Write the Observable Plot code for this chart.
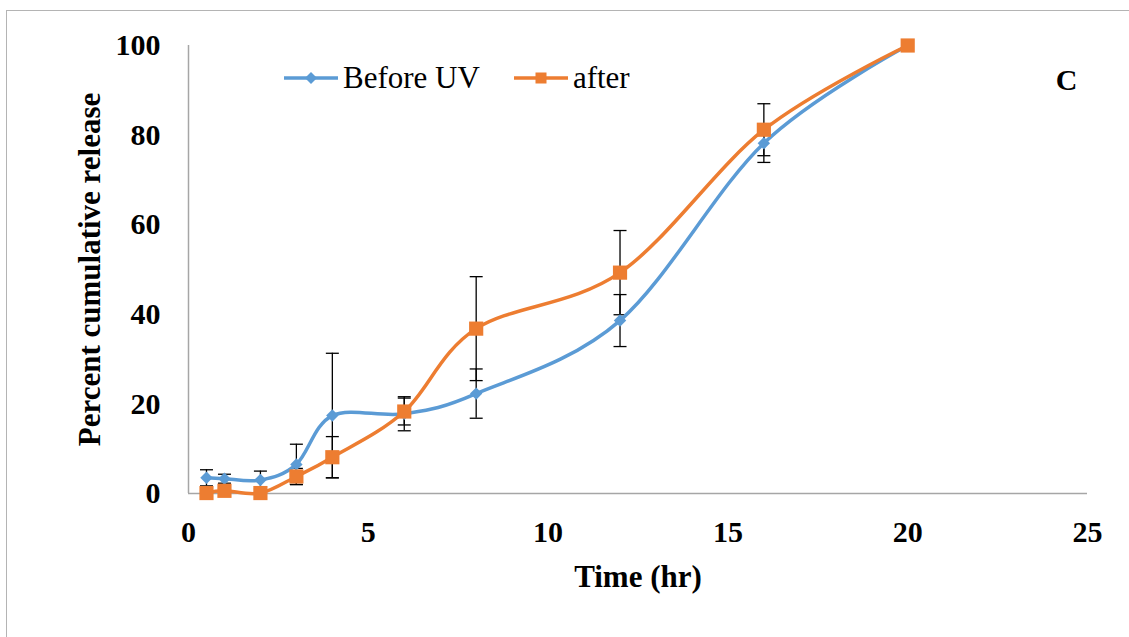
<!DOCTYPE html>
<html>
<head>
<meta charset="utf-8">
<script src="https://cdn.jsdelivr.net/npm/d3@7"></script>
<script src="https://cdn.jsdelivr.net/npm/@observablehq/plot@0.6"></script>
<style>
  html, body { margin: 0; padding: 0; background: #fff; }
  #wrap { position: relative; width: 1129px; height: 637px; overflow: hidden; font-family: "Liberation Serif", "Times New Roman", serif; }
  #borderTop { position: absolute; left: 6px; top: 10px; width: 1130px; height: 0; border-top: 1.5px solid #b4b4b4; }
  #borderLeft { position: absolute; left: 6px; top: 10px; width: 0; height: 640px; border-left: 1.5px solid #b4b4b4; }
  #chart { position: absolute; left: 0; top: 0; }
  #legend { position: absolute; left: 284px; top: 60px; display: flex; align-items: center; font-size: 31px; color: #000; }
  #legend .item { display: flex; align-items: center; margin-right: 34px; }
  #legend svg { margin-right: 5px; }
</style>
</head>
<body>
<div id="wrap">
  <div id="chart"></div>
  <div id="borderTop"></div>
  <div id="borderLeft"></div>
  <div id="legend"></div>
</div>
<script>
// ---- data ----
const time = [0.5, 1, 2, 3, 4, 6, 8, 12, 16, 20];
const beforeUV = [3.5, 3.3, 3.0, 6.5, 17.4, 17.8, 22.3, 38.6, 78.2, 100];
const beforeUVErr = [1.8, 1.0, 2.0, 4.5, 13.9, 3.8, 5.5, 5.8, 4.3, 0];
const after = [0.1, 0.6, 0.1, 3.8, 8.1, 18.3, 36.8, 49.3, 81.2, 100];
const afterErr = [0.3, 0.5, 0.3, 1.8, 4.6, 3.0, 11.6, 9.4, 5.8, 0];
const seriesNames = ["Before UV", "after"];
const seriesColors = ["#5B9BD5", "#ED7D31"];
const xTicks = [0, 5, 10, 15, 20, 25];
const yTicks = [0, 20, 40, 60, 80, 100];
const xLabel = "Time (hr)";
const yLabel = "Percent cumulative release";
const panelLabel = "C";

const rows = [];
time.forEach((t, i) => {
  rows.push({series: seriesNames[0], t, v: beforeUV[i], e: beforeUVErr[i]});
  rows.push({series: seriesNames[1], t, v: after[i], e: afterErr[i]});
});
const rowsA = rows.filter(d => d.series === seriesNames[0]);
const rowsB = rows.filter(d => d.series === seriesNames[1]);
const errRows = rows.filter(d => d.e > 0);

const capSymbol = {
  draw(context, size) {
    const w = 6.5;
    context.moveTo(-w, 0);
    context.lineTo(w, 0);
  }
};

const plot = Plot.plot({
  width: 1129,
  height: 637,
  marginLeft: 188,
  marginRight: 42,
  marginTop: 45,
  marginBottom: 144,
  style: { fontFamily: "'Liberation Serif', 'Times New Roman', serif", background: "transparent", color: "#000" },
  x: { domain: [0, 25] },
  y: { domain: [0, 100] },
  marks: [
    Plot.axisX({ ticks: xTicks, tickSize: 0, tickPadding: 27, fontSize: 30, fontWeight: "bold", label: null }),
    Plot.axisY({ ticks: yTicks, tickSize: 0, tickPadding: 28, fontSize: 30, fontWeight: "bold", label: null }),
    Plot.ruleY([0], { stroke: "#a6a6a6", strokeWidth: 1.5 }),
    Plot.ruleX([0], { stroke: "#a6a6a6", strokeWidth: 1.5 }),
    // error bars
    Plot.ruleX(errRows, { x: "t", y1: d => d.v - d.e, y2: d => d.v + d.e, stroke: "#000", strokeWidth: 1.3 }),
    Plot.dot(errRows, { x: "t", y: d => d.v + d.e, symbol: capSymbol, r: 4, stroke: "#000", strokeWidth: 1.3, fill: "none" }),
    Plot.dot(errRows, { x: "t", y: d => d.v - d.e, symbol: capSymbol, r: 4, stroke: "#000", strokeWidth: 1.3, fill: "none" }),
    // lines
    Plot.line(rowsA, { x: "t", y: "v", stroke: seriesColors[0], strokeWidth: 3.5, curve: "cardinal", tension: 0 }),
    Plot.line(rowsB, { x: "t", y: "v", stroke: seriesColors[1], strokeWidth: 3.5, curve: "cardinal", tension: 0 }),
    // markers
    Plot.dot(rowsA, { x: "t", y: "v", symbol: "diamond2", r: 5.6, fill: seriesColors[0], stroke: null }),
    Plot.dot(rowsB, { x: "t", y: "v", symbol: "square", r: 8, fill: seriesColors[1], stroke: null }),
    // axis titles and panel label
    Plot.text([yLabel], { frameAnchor: "left", dx: -98, rotate: -90, text: d => d, fontSize: 31, fontWeight: "bold", fill: "#000", textAnchor: "middle", lineAnchor: "middle" }),
    Plot.text([xLabel], { frameAnchor: "bottom", dy: 84, text: d => d, fontSize: 31, fontWeight: "bold", fill: "#000", textAnchor: "middle", lineAnchor: "middle" }),
    Plot.text([panelLabel], { frameAnchor: "top-right", dx: -10, dy: 35, text: d => d, fontSize: 30, fontWeight: "bold", fill: "#000", textAnchor: "end", lineAnchor: "middle" })
  ]
});
document.getElementById("chart").appendChild(plot);

// legend
const legend = document.getElementById("legend");
seriesNames.forEach((name, i) => {
  const item = document.createElement("div");
  item.className = "item";
  const marker = i === 0
    ? `<path d="M27,-6 L33,0 L27,6 L21,0 Z" fill="${seriesColors[i]}" transform="translate(0,8)"/>`
    : `<rect x="21.5" y="2.5" width="11" height="11" fill="${seriesColors[i]}"/>`;
  item.innerHTML = `<svg width="54" height="16"><line x1="0" y1="8" x2="54" y2="8" stroke="${seriesColors[i]}" stroke-width="3.5"/>${marker}</svg><span>${name}</span>`;
  legend.appendChild(item);
});
</script>
</body>
</html>
